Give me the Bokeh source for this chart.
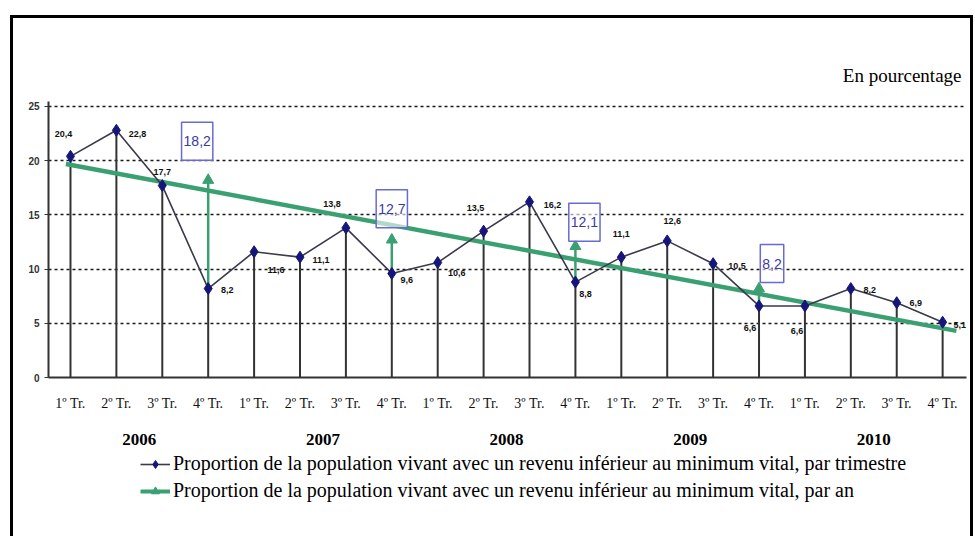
from bokeh.plotting import figure
from bokeh.layouts import column
from bokeh.models import (Range1d, FixedTicker, LinearAxis, Legend, LegendItem,
                          Label, ColumnDataSource)
from bokeh.core.properties import value
from bokeh.embed import file_html
from bokeh.resources import INLINE

# ---------------- data ----------------
quarter_labels = ["1º Tr.", "2º Tr.", "3º Tr.", "4º Tr."] * 5
years = ["2006", "2007", "2008", "2009", "2010"]
quarterly = [20.4, 22.8, 17.7, 8.2, 11.6, 11.1, 13.8, 9.6, 10.6, 13.5,
             16.2, 8.8, 11.1, 12.6, 10.5, 6.6, 6.6, 8.2, 6.9, 5.1]
annual_quarter = [3, 7, 11, 15]          # 4th quarter of 2006..2009
annual = [18.2, 12.7, 12.1, 8.2]
trend_pos = [-0.1, 19.3]
trend_val = [19.7, 4.3]
y_ticks = [0, 5, 10, 15, 20, 25]
legend_labels = [
    "Proportion de la population vivant avec un revenu inférieur au minimum vital, par trimestre",
    "Proportion de la population vivant avec un revenu inférieur au minimum vital, par an",
]

# label offsets (screen px) -- layout only
lab_dx = [-7, 21, 0, 19, 22, 21, -14, 15, 19, -8, 23, 10, 0, 5, 24, -9, -8, 19, 19, 17]
lab_dy = [-22, 4, -14, 1, 18, 3, -24, 7, 10, -23, 3, 12, -23, -20, 2, 22, 25, 1, 0, 3]
box_dx = [-11, 0, 9, 13]
box_dy = [-39, -31, -24, -25]

SERIF = "Liberation Serif"
SANS = "Liberation Sans"
GREEN = "#3aa072"
NAVY = "#16167a"
LINE = "#3a3a4a"

idx = list(range(len(quarterly)))
qsrc = ColumnDataSource(dict(
    x=idx, y=quarterly, zero=[0] * len(idx),
    lab=[f"{v:.1f}".replace(".", ",") for v in quarterly],
    dx=lab_dx, dy=lab_dy))
asrc = ColumnDataSource(dict(
    x=annual_quarter, y=annual,
    q=[quarterly[i] for i in annual_quarter],
    lab=[f"{v:.1f}".replace(".", ",") for v in annual],
    dx=box_dx, dy=box_dy))

p = figure(width=957, height=434, output_backend="svg", toolbar_location=None,
           x_range=Range1d(-0.479, 19.52), y_range=Range1d(0, 29.24),
           min_border_left=35, min_border_right=4, min_border_top=42,
           min_border_bottom=75, outline_line_color=None)

# axes
xa = p.xaxis[0]
xa.ticker = FixedTicker(ticks=idx, minor_ticks=[])
xa.major_label_overrides = {i: quarter_labels[i] for i in idx}
xa.axis_line_color = "#333333"
xa.axis_line_width = 2
xa.major_tick_in = 0
xa.major_tick_out = 0
xa.major_label_standoff = 18
xa.major_label_text_font = SERIF
xa.major_label_text_font_size = "14px"
xa.major_label_text_color = "#111111"

ya = p.yaxis[0]
ya.ticker = FixedTicker(ticks=y_ticks, minor_ticks=[])
ya.bounds = (0, 25.5)
ya.axis_line_color = "#333333"
ya.axis_line_width = 2
ya.major_tick_in = 0
ya.major_tick_out = 4
ya.major_tick_line_color = "#333333"
ya.major_label_standoff = 5
ya.major_label_text_font = SANS
ya.major_label_text_font_style = "bold"
ya.major_label_text_font_size = "10px"
ya.major_label_text_color = "#333333"

year_ticks = [1.5 + 4 * i for i in range(len(years))]
year_axis = LinearAxis(ticker=FixedTicker(ticks=year_ticks, minor_ticks=[]),
                       major_label_overrides={t: y for t, y in zip(year_ticks, years)},
                       axis_line_color=None, major_tick_line_color=None,
                       major_tick_in=0, major_tick_out=0,
                       major_label_standoff=20,
                       major_label_text_font=SERIF,
                       major_label_text_font_style="bold",
                       major_label_text_font_size="17px",
                       major_label_text_color="#000000")
p.add_layout(year_axis, "below")

p.xgrid.visible = False
p.ygrid.ticker = FixedTicker(ticks=y_ticks[1:], minor_ticks=[])
p.ygrid.grid_line_color = "#1a1a1a"
p.ygrid.grid_line_dash = "3 3"
p.ygrid.grid_line_width = 1.5

# drop lines
p.segment(x0="x", y0="zero", x1="x", y1="y", source=qsrc,
          line_color="#333333", line_width=2)
# annual arrows
p.segment(x0="x", y0="q", x1="x", y1="y", source=asrc,
          line_color=GREEN, line_width=2.5)
# trend (annual) line
p.line(trend_pos, trend_val, line_color=GREEN, line_width=4.5)
# quarterly
p.line("x", "y", source=qsrc, line_color=LINE, line_width=1.6)
p.scatter("x", "y", source=qsrc, marker="diamond", size=12,
          fill_color=NAVY, line_color=NAVY)
p.scatter("x", "y", source=asrc, marker="triangle", size=11,
          fill_color=GREEN, line_color=GREEN)

# data labels
p.text("x", "y", text="lab", source=qsrc, x_offset="dx", y_offset="dy",
       text_font=value(SANS), text_font_style="bold", text_font_size="9px",
       text_align="center", text_baseline="middle", text_color="#111111")
p.text("x", "y", text="lab", source=asrc, x_offset="dx", y_offset="dy",
       text_font=value(SANS), text_font_size="14px",
       text_align="center", text_baseline="middle", text_color="#3a3aa8",
       border_line_color="#6a6ad0", border_line_width=1.5,
       background_fill_color="white", background_fill_alpha=0.6,
       padding=dict(x=2, y=14))

p.add_layout(Label(x=913, y=302, x_units="screen", y_units="screen",
                   text="En pourcentage", text_align="right",
                   text_baseline="middle", text_font=SERIF,
                   text_font_size="19px", text_color="#000000"))

# ---------------- legend strip ----------------
# same series, but the strip's y-range lies below all values, so only the legend shows
p2 = figure(width=957, height=84, output_backend="svg", toolbar_location=None,
            x_range=Range1d(-0.479, 19.52), y_range=Range1d(-2, -1),
            x_axis_location=None, y_axis_location=None,
            min_border=0, outline_line_color=None)
p2.grid.visible = False
l1 = p2.line("x", "y", source=qsrc, line_color=LINE, line_width=1.6)
m1 = p2.scatter("x", "y", source=qsrc, marker="diamond", size=8,
                fill_color=NAVY, line_color=NAVY)
l2 = p2.line(trend_pos, trend_val, line_color=GREEN, line_width=4)
m2 = p2.scatter("x", "y", source=asrc, marker="triangle", size=7,
                fill_color=GREEN, line_color=GREEN)

legend = Legend(items=[
    LegendItem(label=legend_labels[0], renderers=[l1, m1]),
    LegendItem(label=legend_labels[1], renderers=[l2, m2]),
], location=(92, 34), orientation="vertical",
    background_fill_alpha=0, border_line_color=None, padding=0, margin=0,
    spacing=4, glyph_width=30, glyph_height=20, label_height=20,
    label_standoff=3, label_text_font=SERIF, label_text_font_size="20px",
    label_text_color="#000000")
p2.add_layout(legend)

layout = column(p, p2, spacing=0,
                styles={"margin-left": "10px", "margin-top": "15px",
                        "border-top": "3px solid black",
                        "border-left": "3px solid black",
                        "border-right": "3px solid black"})

open("out.html", "w").write(file_html(layout, INLINE))
